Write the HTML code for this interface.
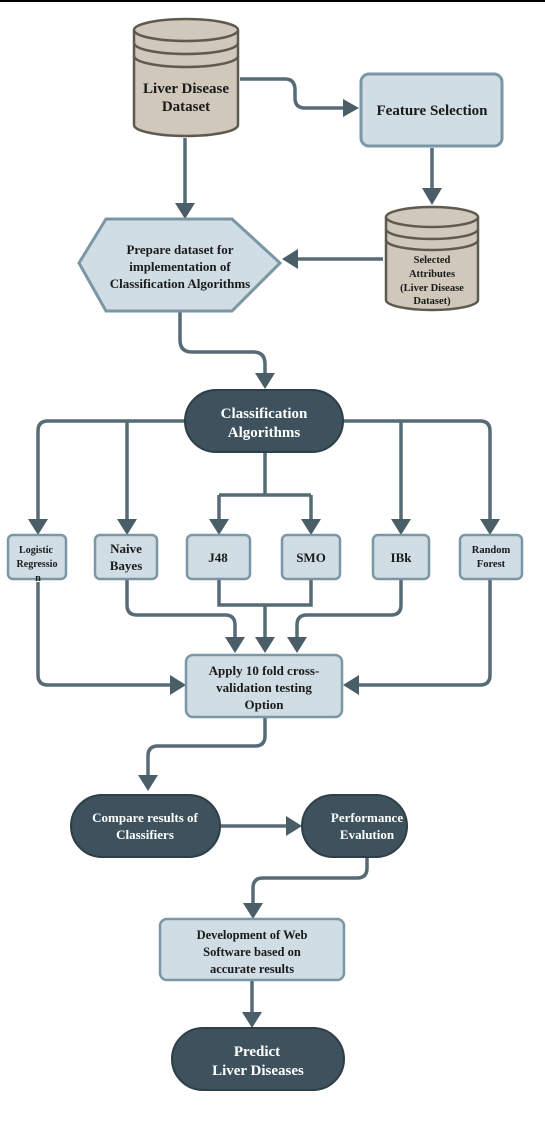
<!DOCTYPE html>
<html><head><meta charset="utf-8"><style>
html,body{margin:0;padding:0;background:#fff;}
svg{display:block;}
text{font-family:"Liberation Serif",serif;font-weight:bold;text-anchor:middle;}
</style></head><body>
<svg width="545" height="1122" viewBox="0 0 545 1122" xmlns="http://www.w3.org/2000/svg">
<defs>
<marker id="a" markerWidth="8" markerHeight="8" refX="6" refY="4" orient="auto" markerUnits="userSpaceOnUse" viewBox="0 0 8 8"><path d="M0,0 L8,4 L0,8 Z" fill="#4a5e68"/></marker>
</defs>
<rect x="0" y="0" width="545" height="2" fill="#000"/>
<g fill="none" stroke="#566b75" stroke-width="3.5">
<!-- connectors -->
<path d="M240,79 H285 Q295,79 295,90 V98 Q295,108 305,108 H345"/>
<path d="M185,138 V205"/>
<path d="M432,148 V192"/>
<path d="M383,259 H296"/>
<path d="M180,312 V340 Q180,352 192,352 H253 Q265,352 265,364 V376"/>
<path d="M185,421 H48 Q38,421 38,431 V522"/>
<path d="M127,421 V522"/>
<path d="M343,421 H480 Q490,421 490,431 V522"/>
<path d="M401,421 V522"/>
<path d="M265,452 V495 M219,495 H311 M219,495 V522 M311,495 V522"/>
<path d="M127,580 V605 Q127,615 137,615 H225 Q235,615 235,625 V640"/>
<path d="M219,580 V605 H311 V580 M265,605 V640"/>
<path d="M401,580 V605 Q401,615 391,615 H307 Q297,615 297,625 V640"/>
<path d="M38,582 V675 Q38,685 48,685 H172"/>
<path d="M490,580 V675 Q490,685 480,685 H357"/>
<path d="M265,717 V736 Q265,746 255,746 H158 Q148,746 148,756 V778"/>
<path d="M220,826 H288"/>
<path d="M367,857 V868 Q367,878 357,878 H263 Q253,878 253,888 V906"/>
<path d="M252,980 V1015"/>
</g>
<g fill="#4a5e68">
<path d="M343,99 L359,108 L343,117 Z"/>
<path d="M175,203 L195,203 L185,219 Z"/>
<path d="M422,188 L442,188 L432,205 Z"/>
<path d="M298,249 L298,269 L282,259 Z"/>
<path d="M255,373 L275,373 L265,389 Z"/>
<path d="M28,519 L48,519 L38,535 Z"/>
<path d="M117,519 L137,519 L127,535 Z"/>
<path d="M209,519 L229,519 L219,535 Z"/>
<path d="M301,519 L321,519 L311,535 Z"/>
<path d="M391,519 L411,519 L401,535 Z"/>
<path d="M480,519 L500,519 L490,535 Z"/>
<path d="M225,637 L245,637 L235,653 Z"/>
<path d="M255,637 L275,637 L265,653 Z"/>
<path d="M287,637 L307,637 L297,653 Z"/>
<path d="M170,675 L170,695 L186,685 Z"/>
<path d="M359,675 L359,695 L343,685 Z"/>
<path d="M138,775 L158,775 L148,791 Z"/>
<path d="M286,816 L286,836 L302,826 Z"/>
<path d="M243,903 L263,903 L253,919 Z"/>
<path d="M242,1012 L262,1012 L252,1028 Z"/>
</g>
<!-- cylinder 1 -->
<g stroke="#5f5a50" stroke-width="2.5" fill="#cfc8bb">
<path d="M134,30 V125 A52,11 0 0 0 238,125 V30"/>
<ellipse cx="186" cy="30" rx="52" ry="11"/>
<path d="M134,43 A52,11 0 0 0 238,43 M134,56 A52,11 0 0 0 238,56" fill="none"/>
</g>
<text x="186" y="93" font-size="15" fill="#1a1a1a">Liver Disease</text>
<text x="186" y="111" font-size="15" fill="#1a1a1a">Dataset</text>
<!-- feature selection -->
<rect x="361" y="74" width="141" height="72" rx="8" fill="#d0dde4" stroke="#7b96a5" stroke-width="3"/>
<text x="432" y="115" font-size="15" fill="#1a1a1a">Feature Selection</text>
<!-- cylinder 2 -->
<g stroke="#5f5a50" stroke-width="2.5" fill="#cfc8bb">
<path d="M386,217 V300 A46,10 0 0 0 478,300 V217"/>
<ellipse cx="432" cy="217" rx="46" ry="10"/>
<path d="M386,229 A46,10 0 0 0 478,229 M386,240 A46,10 0 0 0 478,240" fill="none"/>
</g>
<text x="432" y="263" font-size="10.5" fill="#1a1a1a">Selected</text>
<text x="432" y="277" font-size="10.5" fill="#1a1a1a">Attributes</text>
<text x="432" y="291" font-size="10.5" fill="#1a1a1a">(Liver Disease</text>
<text x="432" y="304" font-size="10.5" fill="#1a1a1a">Dataset)</text>
<!-- hexagon -->
<path d="M79,263 L106,219 L232,219 L280,263 L232,311 L106,311 Z" fill="#d0dde4" stroke="#7b96a5" stroke-width="3"/>
<text x="180" y="254" font-size="13" fill="#1a1a1a">Prepare dataset for</text>
<text x="180" y="271" font-size="13" fill="#1a1a1a">implementation of</text>
<text x="180" y="288" font-size="13" fill="#1a1a1a">Classification Algorithms</text>
<!-- classification pill -->
<rect x="185" y="390" width="158" height="62" rx="31" fill="#3d525c" stroke="#2f3f47" stroke-width="2"/>
<text x="264" y="418" font-size="15" fill="#fff">Classification</text>
<text x="264" y="437" font-size="15" fill="#fff">Algorithms</text>
<!-- algorithm boxes -->
<g fill="#d0dde4" stroke="#7b96a5" stroke-width="2.5">
<rect x="8" y="535" width="58" height="44" rx="5"/>
<rect x="95" y="535" width="62" height="44" rx="5"/>
<rect x="187" y="535" width="63" height="44" rx="5"/>
<rect x="282" y="535" width="58" height="44" rx="5"/>
<rect x="373" y="535" width="56" height="44" rx="5"/>
<rect x="460" y="535" width="62" height="44" rx="5"/>
</g>
<g fill="#1a1a1a">
<text x="36" y="553" font-size="10">Logistic</text>
<text x="37" y="567" font-size="10">Regressio</text>
<text x="38" y="581" font-size="10">n</text>
<text x="126" y="553" font-size="13">Naive</text>
<text x="126" y="570" font-size="13">Bayes</text>
<text x="218" y="562" font-size="13">J48</text>
<text x="311" y="562" font-size="13">SMO</text>
<text x="401" y="562" font-size="13">IBk</text>
<text x="491" y="553" font-size="10.5">Random</text>
<text x="491" y="567" font-size="10.5">Forest</text>
</g>
<!-- apply -->
<rect x="186" y="655" width="156" height="62" rx="7" fill="#d0dde4" stroke="#7b96a5" stroke-width="2.5"/>
<text x="264" y="675" font-size="13" fill="#1a1a1a">Apply 10 fold cross-</text>
<text x="264" y="692" font-size="13" fill="#1a1a1a">validation testing</text>
<text x="264" y="709" font-size="13" fill="#1a1a1a">Option</text>
<!-- compare / performance -->
<rect x="71" y="795" width="149" height="62" rx="31" fill="#3d525c" stroke="#2f3f47" stroke-width="2"/>
<text x="145" y="822" font-size="13" fill="#fff">Compare results of</text>
<text x="145" y="839" font-size="13" fill="#fff">Classifiers</text>
<rect x="302" y="795" width="105" height="62" rx="31" fill="#3d525c" stroke="#2f3f47" stroke-width="2"/>
<text x="367" y="822" font-size="13" fill="#fff">Performance</text>
<text x="367" y="839" font-size="13" fill="#fff">Evalution</text>
<!-- development -->
<rect x="160" y="919" width="184" height="61" rx="7" fill="#d0dde4" stroke="#7b96a5" stroke-width="2.5"/>
<text x="252" y="939" font-size="12.5" fill="#1a1a1a">Development of Web</text>
<text x="252" y="956" font-size="12.5" fill="#1a1a1a">Software based on</text>
<text x="252" y="973" font-size="12.5" fill="#1a1a1a">accurate results</text>
<!-- predict -->
<rect x="172" y="1028" width="172" height="62" rx="31" fill="#3d525c" stroke="#2f3f47" stroke-width="2"/>
<text x="257" y="1056" font-size="15" fill="#fff">Predict</text>
<text x="258" y="1075" font-size="15" fill="#fff">Liver Diseases</text>
</svg>
</body></html>
